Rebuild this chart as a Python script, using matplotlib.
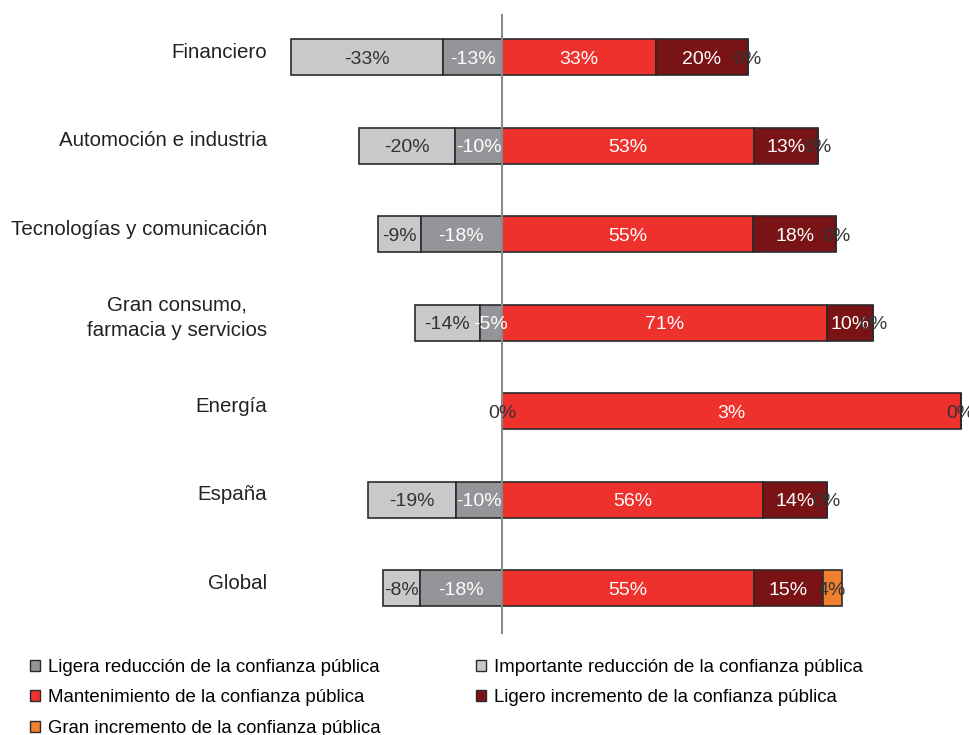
import matplotlib
matplotlib.use("Agg")
import matplotlib.pyplot as plt
from matplotlib.patches import Patch
from matplotlib.transforms import offset_copy
import numpy as np

plt.rcParams["font.family"] = ["Liberation Sans", "DejaVu Sans"]

categories = ["Financiero", "Automoción e industria", "Tecnologías y comunicación",
              "Gran consumo,\nfarmacia y servicios", "Energía", "España", "Global"]

# bar lengths (percent)
importante_red = [33.0, 20.8, 9.2, 14.0, 0.0, 19.0, 8.0]
ligera_red = [12.7, 10.1, 17.6, 4.8, 0.0, 10.0, 17.7]
mantenimiento = [33.3, 54.6, 54.4, 70.3, 99.3, 56.6, 54.5]
ligero_inc = [19.9, 13.7, 18.0, 10.1, 0.0, 13.7, 14.9]
gran_inc = [0.0, 0.0, 0.0, 0.0, 0.0, 0.0, 4.1]

# the labels printed on the bars
lbl_importante = ["-33%", "-20%", "-9%", "-14%", "0%", "-19%", "-8%"]
lbl_ligera = ["-13%", "-10%", "-18%", "-5%", "", "-10%", "-18%"]
lbl_mant = ["33%", "53%", "55%", "71%", "3%", "56%", "55%"]
lbl_ligero = ["20%", "13%", "18%", "10%", "", "14%", "15%"]
lbl_gran = ["0%", "0%", "0%", "0%", "0%", "0%", "4%"]

legend_names = ["Ligera reducción de la confianza pública",
                "Mantenimiento de la confianza pública",
                "Gran incremento de la confianza pública",
                "Importante reducción de la confianza pública",
                "Ligero incremento de la confianza pública"]

C_LGRAY, C_GRAY, C_RED, C_DRED, C_ORANGE = "#c8c9cb", "#939598", "#ee312d", "#7a1315", "#f07f2e"
EDGE = "#2b2b2b"
DARK = "#333333"

W, H = 969, 735
fig = plt.figure(figsize=(W / 100, H / 100), dpi=100)

# pixel geometry
px_per_pct = 4.62
x0_px, center_px = 280, 502
top_px, bot_px = 14, 634
row0_px, row_step = 57.3, 88.5

ax = fig.add_axes([x0_px / W, 1 - bot_px / H, 1 - x0_px / W, (bot_px - top_px) / H])
ax.set_xlim(-(center_px - x0_px) / px_per_pct, (W - center_px) / px_per_pct)
ax.set_ylim((bot_px - row0_px) / row_step, -(row0_px - top_px) / row_step)

y = np.arange(len(categories))
h = 0.41
imp = np.array(importante_red)
lig = np.array(ligera_red)
man = np.array(mantenimiento)
lin = np.array(ligero_inc)
gra = np.array(gran_inc)

kw = dict(height=h, edgecolor=EDGE, linewidth=1.2, zorder=2)
segments = [
    (-(imp + lig), imp, C_LGRAY, lbl_importante, DARK),
    (-lig, lig, C_GRAY, lbl_ligera, "white"),
    (np.zeros_like(man), man, C_RED, lbl_mant, "white"),
    (man, lin, C_DRED, lbl_ligero, "white"),
    (man + lin, gra, C_ORANGE, lbl_gran, DARK),
]
for left, width, color, labels, tcol in segments:
    ax.barh(y, width, left=left, color=color, **kw)

val_tr = offset_copy(ax.transData, fig=fig, x=0, y=-2, units="dots")
for left, width, color, labels, tcol in segments:
    for yi, l, w, t in zip(y, left, width, labels):
        if not t:
            continue
        c = DARK if w == 0 else tcol
        ax.text(l + w / 2, yi, t, transform=val_tr, ha="center", va="center",
                color=c, fontsize=14, zorder=4)

ax.axvline(0, color="#8a8a8a", lw=1.5, zorder=3)

# category names, right edge at ~267 px, sitting a little above bar centre
lab_tr = offset_copy(ax.transData, fig=fig, x=0, y=5, units="dots")
x_lab = -(center_px - 267) / px_per_pct
for yi, name in zip(y, categories):
    ax.text(x_lab, yi, name, transform=lab_tr, ha="right", va="center",
            multialignment="center", fontsize=14.8, color="#222222",
            linespacing=1.4, clip_on=False)

ax.set_xticks([])
ax.set_yticks([])
for s in ax.spines.values():
    s.set_visible(False)
ax.patch.set_alpha(0)

# legend, two columns placed separately
face = [C_GRAY, C_RED, C_ORANGE, C_LGRAY, C_DRED]
handles = [Patch(facecolor=c, edgecolor=EDGE, linewidth=1.0) for c in face]
lkw = dict(frameon=False, fontsize=13.4, handlelength=0.52, handleheight=0.52,
           handletextpad=0.45, labelspacing=0.72, borderaxespad=0, borderpad=0)
fig.legend(handles[:3], legend_names[:3], loc="upper left",
           bbox_to_anchor=(30 / W, 1 - 659 / H), **lkw)
fig.legend(handles[3:], legend_names[3:], loc="upper left",
           bbox_to_anchor=(476 / W, 1 - 659 / H), **lkw)

fig.savefig("out.png", dpi=100)
